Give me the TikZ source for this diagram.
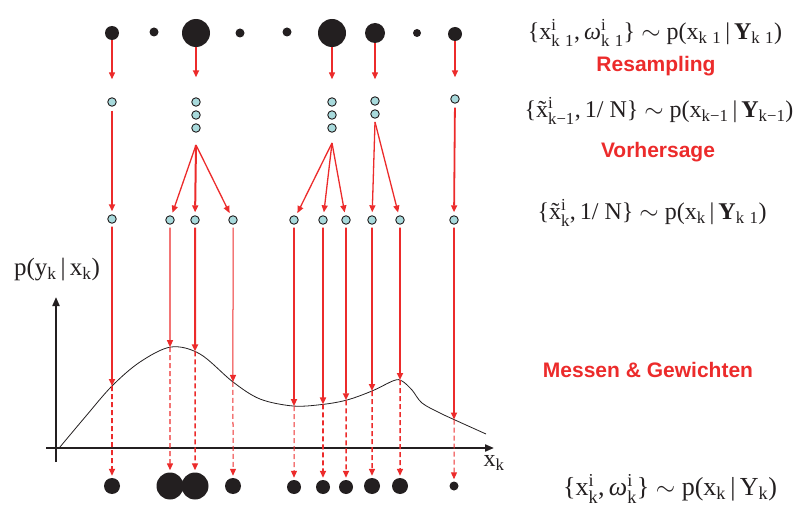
\documentclass[tikz,border=0pt]{standalone}
\usepackage{amsmath}
\usepackage{fontspec}
\setmainfont{Liberation Serif}
\newfontfamily\labelfont{Liberation Sans}
\usetikzlibrary{arrows.meta,intersections}
\definecolor{pred}{RGB}{236,43,43}
\definecolor{pcyan}{RGB}{168,218,220}
\definecolor{pblack}{RGB}{35,31,32}
\newcommand{\T}[1]{\text{#1}}
\newcommand{\km}{\T{k\hspace{0.32em}1}}
\newcommand{\tx}{\~{x}}
\begin{document}
\begin{tikzpicture}[x=1pt,y=-1pt,
  blk/.style={circle,fill=pblack,inner sep=0pt,minimum size=#1},
  cyn/.style={circle,fill=pcyan,draw=pblack,line width=0.9pt,inner sep=0pt,minimum size=8.5pt},
  rarr/.style={draw=pred,line width=#1,-{Triangle[length=7pt,width=6pt,fill=pred]}},
  rarr/.default=1.6pt,
  darr/.style={rarr=#1,dash pattern=on 5pt off 3pt},
  darr/.default=1.6pt,
  axisline/.style={draw=pblack,line width=2pt,-{Triangle[length=9pt,width=7pt]}},
  frm/.style={font=\fontsize{24}{26}\selectfont,inner sep=0pt,text=pblack},
  lbl/.style={font=\labelfont\bfseries\fontsize{21}{23}\selectfont,text=pred,inner sep=0pt},
]
\useasboundingbox (0,0) rectangle (796,508);

% top row (weighted particles k-1)
\node[blk=14pt] (t1) at (112,33) {};
\node[blk=9pt]  (t2) at (154,32) {};
\node[blk=28pt] (t3) at (196,33) {};
\node[blk=9pt]  (t4) at (240,33) {};
\node[blk=9pt]  (t5) at (287,32) {};
\node[blk=28pt] (t6) at (332,33) {};
\node[blk=20pt] (t7) at (375,33) {};
\node[blk=8pt]  (t8) at (417,33) {};
\node[blk=14pt] (t9) at (455,34) {};

% resampled particles
\node[cyn] (m1) at (112,102) {};
\node[cyn] (m2) at (196,102) {};
\node[cyn] (m3) at (196,115) {};
\node[cyn] (m4) at (196,128) {};
\node[cyn] (m5) at (332,102) {};
\node[cyn] (m6) at (332,115) {};
\node[cyn] (m7) at (332,128) {};
\node[cyn] (m8) at (375,101) {};
\node[cyn] (m9) at (375,114) {};
\node[cyn] (m10) at (455,99) {};

% predicted particles
\node[cyn] (p1) at (112,219) {};
\node[cyn] (p2) at (170,220) {};
\node[cyn] (p3) at (195,220) {};
\node[cyn] (p4) at (233,220) {};
\node[cyn] (p5) at (294,220) {};
\node[cyn] (p6) at (323,220) {};
\node[cyn] (p7) at (346,220) {};
\node[cyn] (p8) at (372,220) {};
\node[cyn] (p9) at (400,220) {};
\node[cyn] (p10) at (454,220) {};

% bottom row (weighted particles k)
\node[blk=16pt] (b1) at (112,486) {};
\node[blk=27pt] (b2) at (170,486) {};
\node[blk=27pt] (b3) at (195,486) {};
\node[blk=16pt] (b4) at (233,486) {};
\node[blk=14pt] (b5) at (294,487) {};
\node[blk=14pt] (b6) at (323,487) {};
\node[blk=14pt] (b7) at (346,487) {};
\node[blk=16pt] (b8) at (372,486) {};
\node[blk=16pt] (b9) at (400,486) {};
\node[blk=9pt]  (b10) at (454,486) {};

% resampling arrows
\draw[rarr=1.3pt,shorten >=18pt] (t1) -- (m1);
\draw[rarr=2.4pt,shorten >=20pt] (t3) -- (m2);
\draw[rarr=1.3pt,shorten >=18pt] (t6) -- (m5);
\draw[rarr=1.3pt,shorten >=17pt] (t7) -- (m8);
\draw[rarr=1.5pt,shorten >=17pt] (t9) -- (m10);

% prediction arrows
\coordinate (f1) at (196,145);
\coordinate (f2) at (332,143);
\coordinate (f3) at (375,122);
\draw[rarr=1.8pt,shorten <=4pt,shorten >=3pt] (m1) -- (p1);
\draw[rarr=1.3pt,shorten >=3pt] (f1) -- (p2);
\draw[rarr=2pt,shorten >=3pt] (f1) -- (p3);
\draw[rarr=1.3pt,shorten >=3pt] (f1) -- (p4);
\draw[rarr=1.3pt,shorten >=3pt] (f2) -- (p5);
\draw[rarr=1.3pt,shorten >=3pt] (f2) -- (p6);
\draw[rarr=1.3pt,shorten >=3pt] (f2) -- (p7);
\draw[rarr=1.3pt,shorten >=3pt] (f3) -- (p8);
\draw[rarr=1.3pt,shorten >=3pt] (f3) -- (p9);
\draw[rarr=1.8pt,shorten <=4pt,shorten >=3pt] (m10) -- (p10);

% axes
\coordinate (ybot) at (56,462);
\coordinate (ytop) at (56,297);
\coordinate (xl) at (46,448);
\coordinate (xr) at (494,448);
\draw[axisline] (ybot) -- (ytop);
\draw[axisline] (xl) -- (xr);

% likelihood curve
\draw[name path=curve,draw=pblack,line width=0.8pt] plot[smooth,tension=0.55] coordinates {
 (60,447) (86,416) (112,386) (140,362) (171,347) (200,354) (233,382) (260,399)
 (293,406) (322,404.5) (347,400) (372,391) (394,380.5) (402,381) (412,390) (422,403) (440,413)
 (455,420) (486,434)};

% measuring & weighting
\foreach \i/\w/\dw in {1/1.8pt/1.8pt,2/1.2pt/1.3pt,3/2pt/1.5pt,4/1pt/1pt,5/1.8pt/1pt,
                        6/1.8pt/1.8pt,7/1.8pt/1.5pt,8/1.8pt/1.5pt,9/1.8pt/1.5pt,10/1.8pt/1pt} {
  \path[name path=vline] (p\i) -- (b\i);
  \path[name intersections={of=curve and vline,by={c\i}}];
  \draw[rarr=\w,shorten <=3pt] (p\i) -- (c\i);
  \draw[darr=\dw,shorten >=2pt] (c\i) -- (b\i);
}

% texts
\node[frm] (e1) at (655,33) {\{x$^{\T{i}}_{\km}$,\,\textit{ω}$^{\T{i}}_{\km}$\} $\sim$ p(x$_{\km}$\,|\,\textbf{Y}$_{\km}$)};
\node[lbl] (l1) at (656,66) {Resampling};
\node[frm] (e2) at (659,111) {\{\tx$^{\T{i}}_{\T{k−1}}$,\,1/ N\} $\sim$ p(x$_{\T{k−1}}$\,|\,\textbf{Y}$_{\T{k−1}}$)};
\node[lbl] (l2) at (658,152) {Vorhersage};
\node[frm] (e3) at (652,213) {\{\tx$^{\T{i}}_{\T{k}}$,\,1/ N\} $\sim$ p(x$_{\T{k}}$\,|\,\textbf{Y}$_{\km}$)};
\node[lbl] (l3) at (648,370) {Messen \& Gewichten};
\node[frm,font=\fontsize{26}{28}\selectfont] (e4) at (670,489) {\{x$^{\T{i}}_{\T{k}}$,\,\textit{ω}$^{\T{i}}_{\T{k}}$\} $\sim$ p(x$_{\T{k}}$\,|\,Y$_{\T{k}}$)};
\node[frm,font=\fontsize{25}{27}\selectfont] (py) at (57,270) {p(y$_{\T{k}}$\,|\,x$_{\T{k}}$)};
\node[frm] (xk) at (494,463) {x$_{\T{k}}$};
\end{tikzpicture}
\end{document}
